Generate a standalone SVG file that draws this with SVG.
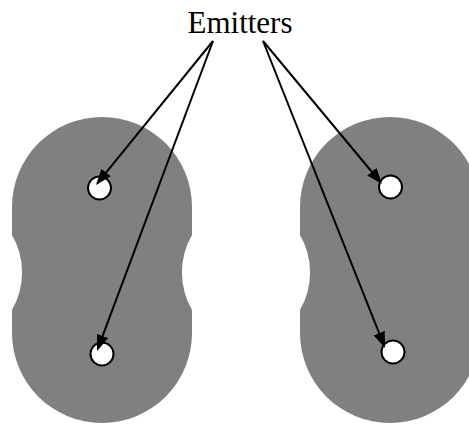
<svg xmlns="http://www.w3.org/2000/svg" width="469" height="425" viewBox="0 0 469 425">
<style>
.blob{fill:#808080;stroke:none}
.emitter{fill:#ffffff;stroke:#000000;stroke-width:2}
.conn{stroke:#000000;stroke-width:2;fill:none;marker-end:url(#ah)}
.label{font-family:"Liberation Serif","Times New Roman",serif;font-size:31px;fill:#000000}
</style>
<defs>
<marker id="ah" markerUnits="userSpaceOnUse" markerWidth="18" markerHeight="13" refX="14" refY="6" orient="auto">
<path d="M0,0 L16,6 L0,12 Z" fill="#000000"/>
</marker>
<path id="blobshape" d="M12,207 A90,90 0 0 1 192,207 L192,235 A75,75 0 0 0 192,310 L192,333 A90,90 0 0 1 12,333 L12,310 A75,75 0 0 0 12,235 Z"/>
</defs>
<g id="left-region">
<use href="#blobshape" class="blob"/>
</g>
<g id="right-region">
<use href="#blobshape" class="blob" transform="translate(288,0)"/>
</g>
<g id="emitter-left-top"><circle class="emitter" cx="99.5" cy="188" r="11.5"/></g>
<g id="emitter-left-bottom"><circle class="emitter" cx="102" cy="354" r="11.5"/></g>
<g id="emitter-right-top"><circle class="emitter" cx="390.5" cy="187" r="11.5"/></g>
<g id="emitter-right-bottom"><circle class="emitter" cx="393" cy="352" r="11.5"/></g>
<g id="label-emitters"><text class="label" x="240" y="33" text-anchor="middle">Emitters</text></g>
<g id="connectors">
<line class="conn" x1="213" y1="41" x2="97.3" y2="183.4"/>
<line class="conn" x1="213" y1="41" x2="97.7" y2="349.1"/>
<line class="conn" x1="263" y1="41" x2="380.7" y2="182.5"/>
<line class="conn" x1="263" y1="41" x2="384.3" y2="346.1"/>
</g>
</svg>
